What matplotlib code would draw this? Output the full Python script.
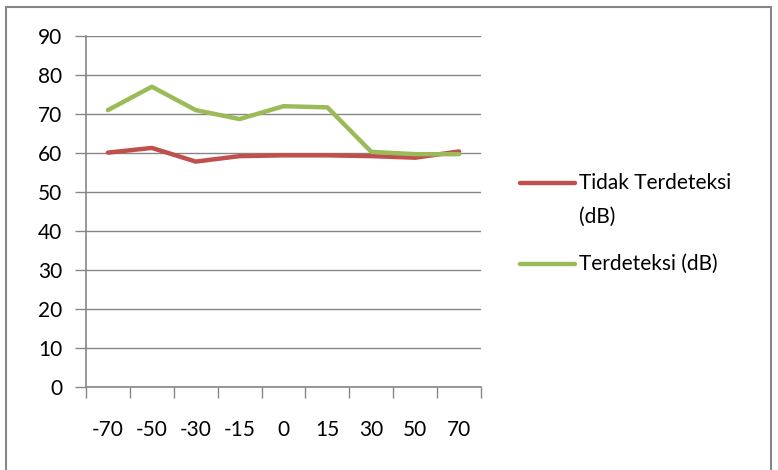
import matplotlib.pyplot as plt
from matplotlib.lines import Line2D
from matplotlib.patches import Rectangle

# Data
angles = ["-70", "-50", "-30", "-15", "0", "15", "30", "50", "70"]
tidak_terdeteksi = [60.1, 61.3, 57.8, 59.2, 59.4, 59.4, 59.2, 58.8, 60.4]
terdeteksi = [71.0, 77.0, 71.0, 68.7, 72.0, 71.7, 60.3, 59.7, 59.7]

red = "#C0504D"
green = "#9BBB59"
grey = "#868686"

plt.rcParams['font.family'] = ['Lato', 'DejaVu Sans']
fs = 15

fig = plt.figure(figsize=(7.78, 4.70), dpi=100)
W, H = 778, 470

# outer chart border (bottom runs off the picture)
fig.patches.append(Rectangle((5.5 / W, -0.05), 765 / W, 1.05 - 7 / H,
                             transform=fig.transFigure, fill=False,
                             edgecolor=grey, linewidth=1.5))

ax = fig.add_axes([86 / W, 1 - 387 / H, (481 - 86) / W, (387 - 36) / H])
x = list(range(len(angles)))
ax.plot(x, tidak_terdeteksi, color=red, linewidth=3.2, solid_capstyle='round')
ax.plot(x, terdeteksi, color=green, linewidth=3.2, solid_capstyle='round')

ax.set_xlim(-0.5, len(angles) - 0.5)
ax.set_ylim(0, 90)
ax.set_yticks(range(0, 91, 10))
ax.yaxis.grid(True, color=grey, linewidth=1)
ax.set_axisbelow(True)

# x ticks sit on category boundaries, labels in between
ax.set_xticks([i - 0.5 for i in range(len(angles) + 1)])
ax.set_xticklabels([])
ax.set_xticks(x, minor=True)
ax.set_xticklabels(angles, minor=True, fontsize=fs)
ax.tick_params(axis='x', which='major', direction='out', length=8, width=1, color=grey)
ax.tick_params(axis='x', which='minor', length=0, pad=24)
ax.tick_params(axis='y', direction='out', length=8, width=1, color=grey, labelsize=fs, pad=9)

for s in ['top', 'right']:
    ax.spines[s].set_visible(False)
for s in ['left', 'bottom']:
    ax.spines[s].set_color(grey)
    ax.spines[s].set_linewidth(1.2)

# legend, drawn Excel-style with the handle on the first text line
def legend_entry(y_px, color, lines):
    fig.add_artist(Line2D([520 / W, 575 / W], [1 - y_px / H, 1 - y_px / H],
                          transform=fig.transFigure, color=color,
                          linewidth=3.2, solid_capstyle='round'))
    for k, t in enumerate(lines):
        fig.text(579 / W, 1 - (y_px + k * 34) / H, t, fontsize=fs,
                 va='center', ha='left')

legend_entry(183, red, ["Tidak Terdeteksi", "(dB)"])
legend_entry(264, green, ["Terdeteksi (dB)"])

fig.savefig("out.png", dpi=100)
